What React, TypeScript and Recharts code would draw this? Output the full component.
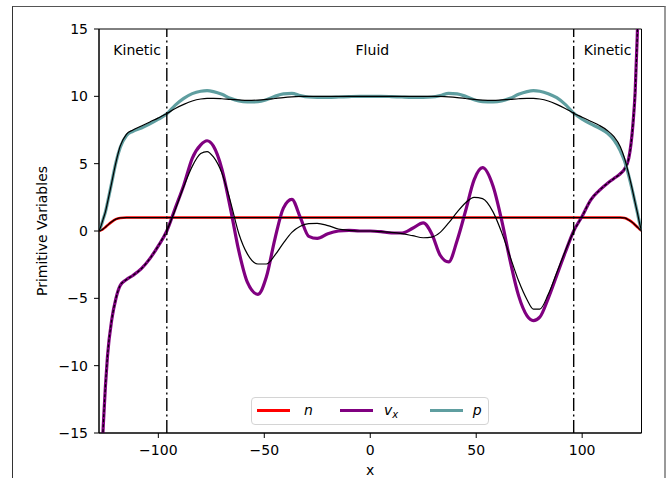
import React from "react";
import {
  LineChart,
  Line,
  XAxis,
  YAxis,
  ReferenceLine,
  ReferenceDot,
  ReferenceArea,
  Legend,
  Label,
} from "recharts";

const FONT = '"DejaVu Sans", Verdana, sans-serif';

// x positions of samples
const xs = [
  -128, -127, -126, -125, -124, -122, -120, -118, -115, -112, -108, -104, -100, -96, -92,
  -88, -84, -80, -77, -74, -70, -66, -62, -58, -53, -49, -45, -41, -37, -33,
  -29, -25, -20, -15, -10, -5, 0, 5, 10, 15, 20, 25, 29, 33, 37,
  41, 45, 49, 53, 58, 62, 66, 70, 74, 77, 80, 84, 88, 92, 96,
  100, 104, 108, 112, 115, 118, 120, 122, 124, 125, 126, 127, 128,
];

// density n
const nVals = [
  0, 0.06, 0.15, 0.28, 0.42, 0.68, 0.88, 0.97, 1, 1, 1, 1, 1, 1, 1,
  1, 1, 1, 1, 1, 1, 1, 1, 1, 1, 1, 1, 1, 1, 1,
  1, 1, 1, 1, 1, 1, 1, 1, 1, 1, 1, 1, 1, 1, 1,
  1, 1, 1, 1, 1, 1, 1, 1, 1, 1, 1, 1, 1, 1, 1,
  1, 1, 1, 1, 1, 1, 0.97, 0.82, 0.6, 0.45, 0.3, 0.15, 0.02,
];

// velocity v_x (hybrid)
const vxVals = [
  -22, -18, -14.5, -11.6, -9.3, -6.6, -5.0, -4.05, -3.6, -3.3, -2.8, -2.05, -1.1, 0.0, 1.7,
  3.4, 5.4, 6.4, 6.7, 6.3, 4.6, 1.7, -1.5, -3.8, -4.7, -3.4, -0.6, 1.7, 2.35, 1.0,
  -0.4, -0.55, -0.2, 0.0, 0.05, 0.0, 0.0, -0.05, -0.15, -0.15, 0.2, 0.6, -0.2, -1.8, -2.3,
  -0.7, 1.5, 3.8, 4.7, 3.3, 0.8, -2.2, -4.8, -6.3, -6.65, -6.4, -5.0, -3.3, -1.6, 0.0,
  1.1, 2.3, 3.0, 3.55, 3.9, 4.25, 4.6, 5.4, 8.0, 10.3, 14.5, 20, 26,
];

// velocity v_x (fluid reference, black solid)
const vxFluidVals = [
  null, null, null, null, null, null, null, null, null, null, null, null, null, 0.0, 1.6,
  3.3, 4.8, 5.75, 5.9, 5.5, 4.3, 2.2, -0.2, -1.7, -2.45, -2.45, -1.8, -0.9, -0.1, 0.35,
  0.55, 0.57, 0.4, 0.15, 0.05, 0.0, 0.0, -0.05, -0.1, -0.2, -0.35, -0.5, -0.45, -0.1, 0.6,
  1.4, 2.1, 2.5, 2.4, 1.4, -0.1, -1.9, -3.7, -5.1, -5.8, -5.8, -4.7, -3.1, -1.5, 0.0,
  null, null, null, null, null, null, null, null, null, null, null, null, null,
];

// pressure p (hybrid)
const pVals = [
  0, 0.4, 0.9, 1.4, 2.1, 3.6, 5.1, 6.2, 7.1, 7.4, 7.65, 7.95, 8.3, 8.7, 9.35,
  9.85, 10.2, 10.38, 10.42, 10.35, 10.15, 9.85, 9.65, 9.58, 9.6, 9.75, 10.0, 10.18, 10.22, 10.05,
  9.95, 9.93, 9.93, 9.95, 9.98, 10.0, 10.0, 10.0, 9.98, 9.95, 9.93, 9.93, 9.95, 10.05, 10.22,
  10.18, 10.0, 9.75, 9.6, 9.58, 9.65, 9.85, 10.15, 10.35, 10.42, 10.38, 10.2, 9.9, 9.4, 8.75,
  8.3, 7.95, 7.65, 7.25, 6.75, 5.95, 5.2, 4.1, 2.8, 2.1, 1.4, 0.65, 0.0,
];

// pressure p (reference, black solid)
const pRefVals = [
  0, 0.4, 0.9, 1.4, 2.1, 3.6, 5.1, 6.3, 7.2, 7.5, 7.8, 8.1, 8.4, 8.72, 9.1,
  9.4, 9.65, 9.8, 9.85, 9.85, 9.82, 9.77, 9.73, 9.7, 9.72, 9.77, 9.84, 9.91, 9.96, 9.99,
  10, 10, 10, 10, 10, 10, 10, 10, 10, 10, 10, 10, 10, 9.99, 9.96,
  9.91, 9.84, 9.77, 9.72, 9.7, 9.73, 9.77, 9.82, 9.85, 9.85, 9.8, 9.65, 9.4, 9.1, 8.75,
  8.45, 8.15, 7.85, 7.45, 7.0, 6.25, 5.4, 4.2, 2.85, 2.1, 1.4, 0.65, 0.0,
];

const yTicks = [-15, -10, -5, 0, 5, 10, 15];
const xTicks = [-100, -50, 0, 50, 100];
const boundaries = [-96, 96];
const regionLabels = [
  { x: -110, text: "Kinetic" },
  { x: 1, text: "Fluid" },
  { x: 112, text: "Kinetic" },
];
const regionLabelY = 13.45;

const COLORS = { n: "#ff0000", vx: "#800080", p: "#5f9ea0" };

const data = xs.map((x, i) => ({
  x,
  n: nVals[i],
  nRef: nVals[i],
  vx: vxVals[i],
  vxRef: vxFluidVals[i],
  vxKin: Math.abs(x) >= 96 ? vxVals[i] : null,
  p: pVals[i],
  pRef: pRefVals[i],
}));

const fmt = (v: number) => (v < 0 ? "\u2212" + Math.abs(v) : String(v));

const legendItems = [
  { key: "n", color: COLORS.n, lineLeft: 4.7, textLeft: 52 },
  { key: "vx", color: COLORS.vx, lineLeft: 88.3, textLeft: 132 },
  { key: "p", color: COLORS.p, lineLeft: 177.7, textLeft: 220.7 },
];

const LegendBox = () => (
  <div
    style={{
      position: "relative",
      width: 238,
      height: 28,
      boxSizing: "border-box",
      border: "1px solid #d4d4d4",
      borderRadius: 4,
      background: "rgba(255,255,255,0.85)",
      fontFamily: FONT,
      fontSize: 14,
      fontStyle: "italic",
      color: "#000",
    }}
  >
    {legendItems.map((it) => (
      <React.Fragment key={it.key}>
        <div
          style={{
            position: "absolute",
            left: it.lineLeft,
            top: 10.5,
            width: 33,
            height: 3,
            background: it.color,
          }}
        />
        <div
          style={{
            position: "absolute",
            left: it.textLeft,
            top: 3,
            lineHeight: "18px",
            whiteSpace: "nowrap",
          }}
        >
          {it.key === "vx" ? (
            <span>
              v
              <span style={{ fontSize: 10, position: "relative", top: 3 }}>x</span>
            </span>
          ) : (
            it.key
          )}
        </div>
      </React.Fragment>
    ))}
  </div>
);

const tickStyle = { fill: "#000", fontSize: 14, fontFamily: FONT };

const YLabel = (props: any) => {
  const vb = props.viewBox || { x: 0, y: 29, width: 99, height: 404 };
  const cx = vb.x + 47;
  const cy = vb.y + vb.height / 2;
  return (
    <text
      x={cx}
      y={cy}
      transform={`rotate(-90 ${cx} ${cy})`}
      textAnchor="middle"
      fill="#000"
      fontSize={14}
      fontFamily={FONT}
    >
      Primitive Variables
    </text>
  );
};

export default function App() {
  return (
    <div
      style={{
        position: "absolute",
        left: 0,
        top: 0,
        width: 670,
        height: 478,
        overflow: "hidden",
        background: "#fff",
      }}
    >
      <div
        style={{
          position: "absolute",
          left: 12,
          top: 6,
          width: 654,
          height: 490,
          boxSizing: "border-box",
          borderLeft: "1px solid #333",
          borderTop: "1px solid #555",
          borderRight: "2px solid #999",
        }}
      />
      <div style={{ position: "absolute", left: 0, top: 0 }}>
        <LineChart
          width={670}
          height={478}
          data={data}
          margin={{ top: 29, right: 28.5, bottom: 0, left: 0 }}
        >
          <XAxis
            dataKey="x"
            type="number"
            domain={[-128, 128]}
            ticks={xTicks}
            tickFormatter={fmt}
            height={45}
            tickSize={5}
            tickMargin={7}
            axisLine={{ stroke: "#000" }}
            tickLine={{ stroke: "#000" }}
            tick={tickStyle}
            allowDataOverflow
          >
            <Label
              value="x"
              position="insideBottom"
              offset={3}
              fill="#000"
              fontSize={14}
              fontFamily={FONT}
            />
          </XAxis>
          <YAxis
            type="number"
            domain={[-15, 15]}
            ticks={yTicks}
            tickFormatter={fmt}
            width={99}
            tickSize={5}
            tickMargin={6}
            axisLine={{ stroke: "#000" }}
            tickLine={{ stroke: "#000" }}
            tick={tickStyle}
            allowDataOverflow
          >
            <Label content={<YLabel />} />
          </YAxis>

          <Line dataKey="n" type="monotone" stroke={COLORS.n} strokeWidth={2.6} dot={false} isAnimationActive={false} />
          <Line dataKey="vx" type="monotone" stroke={COLORS.vx} strokeWidth={3.2} dot={false} isAnimationActive={false} />
          <Line dataKey="p" type="monotone" stroke={COLORS.p} strokeWidth={3.2} dot={false} isAnimationActive={false} />
          <Line dataKey="nRef" type="monotone" stroke="#000" strokeWidth={1.2} dot={false} isAnimationActive={false} />
          <Line dataKey="vxRef" type="monotone" stroke="#000" strokeWidth={1.2} dot={false} isAnimationActive={false} />
          <Line dataKey="vxKin" type="monotone" stroke="#000" strokeWidth={1.2} strokeDasharray="3 2" dot={false} isAnimationActive={false} />
          <Line dataKey="pRef" type="monotone" stroke="#000" strokeWidth={1.2} dot={false} isAnimationActive={false} />

          {boundaries.map((b) => (
            <ReferenceLine
              key={b}
              x={b}
              stroke="#000"
              strokeWidth={1.4}
              strokeDasharray="13 3.5 2 3.5"
            />
          ))}

          {regionLabels.map((r) => (
            <ReferenceDot
              key={r.text + r.x}
              x={r.x}
              y={regionLabelY}
              r={0}
              stroke="none"
              fill="none"
              label={{
                value: r.text,
                position: "center",
                fill: "#000",
                fontSize: 14,
                fontFamily: FONT,
              }}
            />
          ))}

          <ReferenceArea
            x1={-128}
            x2={128}
            y1={-15}
            y2={15}
            fill="none"
            stroke="#000"
            strokeWidth={1}
            ifOverflow="visible"
          />

          <Legend
            layout="horizontal"
            verticalAlign="middle"
            align="center"
            wrapperStyle={{ position: "absolute", left: 251, top: 397, width: 238, height: 28 }}
            content={() => <LegendBox />}
          />
        </LineChart>
      </div>
    </div>
  );
}
